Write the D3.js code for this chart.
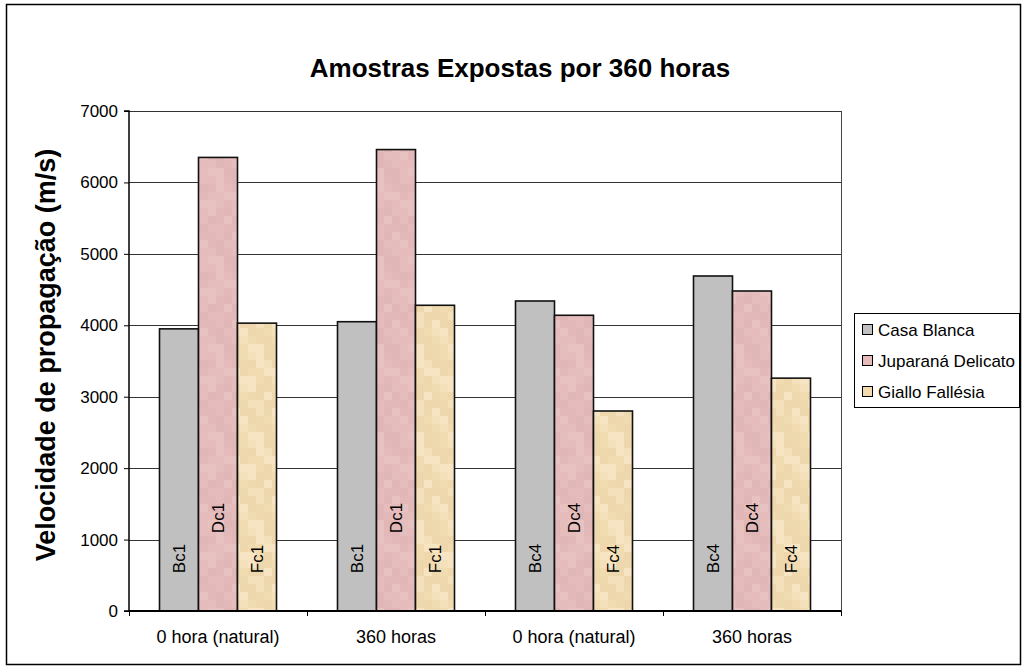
<!DOCTYPE html>
<html><head><meta charset="utf-8">
<script src="https://cdn.jsdelivr.net/npm/d3@7"></script>
<style>body{margin:0;background:#fff}svg{display:block}text{font-family:Arial,"Liberation Sans",sans-serif;fill:#000}</style>
</head><body><svg id="c" width="1025" height="669"></svg>
<script>
const categories = ["0 hora (natural)", "360 horas", "0 hora (natural)", "360 horas"];
const seriesNames = ["Casa Blanca", "Juparaná Delicato", "Giallo Fallésia"];
const casaBlanca = [3950, 4050, 4340, 4690];
const juparana = [6350, 6460, 4140, 4480];
const giallo = [4030, 4280, 2800, 3260];
const casaLabels = ["Bc1", "Bc1", "Bc4", "Bc4"];
const juparanaLabels = ["Dc1", "Dc1", "Dc4", "Dc4"];
const gialloLabels = ["Fc1", "Fc1", "Fc4", "Fc4"];
const yTicks = [0, 1000, 2000, 3000, 4000, 5000, 6000, 7000];
const colors = ["#C0C0C0", "#E5BBBB", "#F1DAAF"];

const series = [casaBlanca, juparana, giallo];
const seriesLabels = [casaLabels, juparanaLabels, gialloLabels];
const labelBaseValue = [530, 1090, 530];

const svg = d3.select("#c");
const L = 129, R = 841, T = 111, B = 611;

// subtle mottled textures (styling only)
const defs = svg.append("defs");
const shadesPink = ["#E6BDBD", "#E3B8B9", "#E5BBBB", "#E1B6B7", "#E8C1C1"];
const shadesYel = ["#F1DBB0", "#EFD7AD", "#F4E0BA", "#EED8AE", "#F6E4C2"];
[["texPink", shadesPink], ["texYel", shadesYel]].forEach(([id, shades]) => {
  const p = defs.append("pattern").attr("id", id).attr("patternUnits", "userSpaceOnUse")
    .attr("width", 40).attr("height", 88);
  for (let i = 0; i < 5; i++) for (let j = 0; j < 11; j++) {
    p.append("rect").attr("x", i * 8).attr("y", j * 8).attr("width", 8).attr("height", 8)
      .attr("fill", shades[(i * 7 + j * 3 + (i * j * 5) % 4) % 5]);
  }
});
const fills = ["#C0C0C0", "url(#texPink)", "url(#texYel)"];

svg.append("rect").attr("x", 6.5).attr("y", 4.5).attr("width", 1014).attr("height", 660)
  .attr("fill", "#fff").attr("stroke", "#000").attr("stroke-width", 1.5);

const x0 = d3.scaleBand().domain(d3.range(categories.length)).range([L, R]).paddingInner(0).paddingOuter(0);
const x1 = d3.scaleBand().domain(d3.range(series.length)).range([0, x0.bandwidth()]).paddingInner(0);
x1.paddingOuter((x0.bandwidth() - 117) / 2 / 39);
const y = d3.scaleLinear().domain([0, 7000]).range([B, T]);

// gridlines
svg.append("g").selectAll("line").data(yTicks.filter(t => t > 0)).join("line")
  .attr("x1", L).attr("x2", R).attr("y1", d => Math.round(y(d)) + 0.5).attr("y2", d => Math.round(y(d)) + 0.5)
  .attr("stroke", "#333").attr("stroke-width", 1);
svg.append("line").attr("x1", R + 0.5).attr("x2", R + 0.5).attr("y1", T).attr("y2", B).attr("stroke", "#444");

// bars
const g = svg.append("g");
series.forEach((vals, si) => {
  g.selectAll(null).data(vals).join("rect")
    .attr("x", (d, i) => x0(i) + x1(si))
    .attr("y", d => y(d))
    .attr("width", x1.bandwidth())
    .attr("height", d => B - y(d))
    .attr("fill", fills[si]).attr("stroke", "#111").attr("stroke-width", 1.6);
});
// bar labels
series.forEach((vals, si) => {
  g.selectAll(null).data(seriesLabels[si]).join("text")
    .attr("transform", (d, i) => `translate(${x0(i) + x1(si) + x1.bandwidth() / 2 + 6},${y(labelBaseValue[si])}) rotate(-90)`)
    .attr("font-size", 17).text(d => d);
});

// y axis
const yAxis = d3.axisLeft(y).tickValues(yTicks).tickSize(5).tickPadding(6).tickFormat(d3.format("d"));
const ya = svg.append("g").attr("transform", `translate(${L},0)`).call(yAxis);
ya.select(".domain").attr("stroke", "#000").attr("stroke-width", 1.5).attr("d", `M-5,${T}H0V${B}H-5`);
ya.selectAll(".tick line").attr("stroke", "#000");
ya.selectAll("text").attr("font-size", 17).attr("font-family", "Arial, 'Liberation Sans', sans-serif");

// x axis
const xAxis = d3.axisBottom(d3.scaleLinear().domain([0, 4]).range([L, R])).tickValues([0, 1, 2, 3, 4]).tickSize(5).tickFormat("");
const xa = svg.append("g").attr("transform", `translate(0,${B})`).call(xAxis);
xa.select(".domain").attr("stroke", "#000").attr("stroke-width", 2).attr("d", `M${L},0H${R}`);
xa.selectAll(".tick line").attr("stroke", "#000");
svg.append("g").selectAll("text").data(categories).join("text")
  .attr("x", (d, i) => x0(i) + x0.bandwidth() / 2).attr("y", 643)
  .attr("text-anchor", "middle").attr("font-size", 18).text(d => d);

// titles
svg.append("text").attr("x", 520).attr("y", 77).attr("text-anchor", "middle")
  .attr("font-size", 26).attr("font-weight", "bold").text("Amostras Expostas por 360 horas");
svg.append("text").attr("transform", "translate(55,355) rotate(-90)").attr("text-anchor", "middle")
  .attr("font-size", 27).attr("font-weight", "bold").text("Velocidade de propagação (m/s)");

// legend
const lg = svg.append("g");
lg.append("rect").attr("x", 854.5).attr("y", 313.5).attr("width", 165).attr("height", 94)
  .attr("fill", "#fff").attr("stroke", "#000");
seriesNames.forEach((n, i) => {
  const cy = 330 + i * 31;
  lg.append("rect").attr("x", 862.5).attr("y", cy - 5.5).attr("width", 10).attr("height", 10)
    .attr("fill", colors[i]).attr("stroke", "#000");
  lg.append("text").attr("x", 878).attr("y", cy + 6).attr("font-size", 17).text(n);
});
</script></body></html>
